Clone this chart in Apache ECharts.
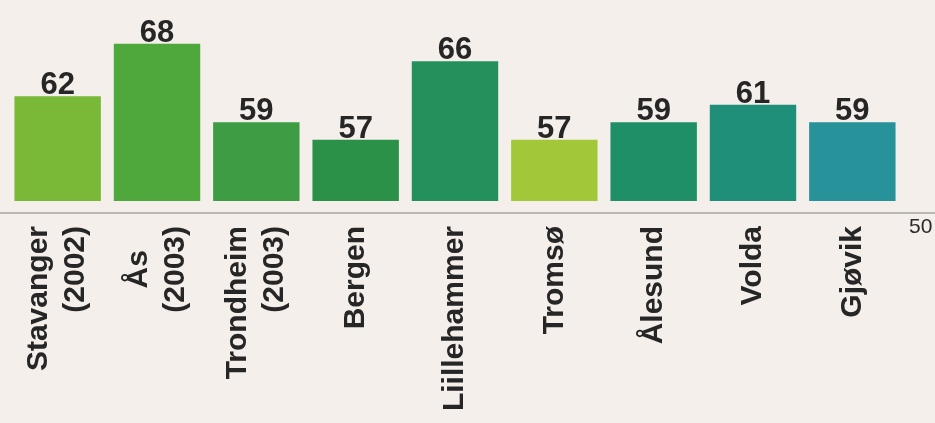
<!DOCTYPE html>
<html>
<head>
<meta charset="utf-8">
<script src="https://cdn.jsdelivr.net/npm/echarts@6/dist/echarts.min.js"></script>
<style>
html,body{margin:0;padding:0;background:#f4efea;}
#c{width:935px;height:423px;}
</style>
</head>
<body>
<div id="c"></div>
<script>
const categories = ['Stavanger\n(2002)', '{c|Ås}\n(2003)', 'Trondheim\n(2003)', 'Bergen', 'Liillehammer', 'Tromsø', 'Ålesund', 'Volda', 'Gjøvik'];
const values = [62, 68, 59, 57, 66, 57, 59, 61, 59];
const barColors = ['#7ab838', '#4fa83c', '#3e9c44', '#2b9048', '#24905c', '#a2c83a', '#1f8f68', '#1f8f7a', '#27929a'];
const baseValue = 50;

const chart = echarts.init(document.getElementById('c'), null, {renderer: 'canvas'});
chart.setOption({
  backgroundColor: '#f4efea',
  animation: false,
  textStyle: {fontFamily: 'Liberation Sans, Arial, sans-serif'},
  grid: [
    {left: 8, right: 33, top: 0, bottom: 222, outerBoundsMode: 'none', containLabel: false},
    {left: 0, right: 0, top: 212, height: 1, outerBoundsMode: 'none', containLabel: false}
  ],
  xAxis: [
    {
      type: 'category', data: categories, gridIndex: 0,
      offset: 11,
      axisLine: {show: false},
      axisTick: {show: false},
      axisLabel: {
        rotate: 90, interval: 0, margin: 14,
        fontSize: 30, fontWeight: 'bold', color: '#262626', lineHeight: 37,
        fontFamily: 'Liberation Sans, Arial, sans-serif',
        rich: {c: {align: 'center', fontSize: 30, fontWeight: 'bold', color: '#262626', lineHeight: 37}}
      }
    },
    {
      type: 'value', gridIndex: 1, min: 0, max: 1,
      axisLine: {show: true, lineStyle: {color: '#a8a4a0', width: 1.5}},
      axisTick: {show: false}, axisLabel: {show: false}, splitLine: {show: false}
    }
  ],
  yAxis: [
    {
      type: 'value', gridIndex: 0, min: baseValue, max: 73, interval: 5,
      position: 'right',
      axisLine: {show: false}, axisTick: {show: false}, splitLine: {show: false},
      axisLabel: {
        showMaxLabel: false,
        formatter: v => v === baseValue ? String(v) : '',
        verticalAlign: 'top', padding: [16, 0, 0, 0], margin: 7,
        align: 'left',
        fontSize: 21, color: '#2a2a2a'
      }
    },
    {type: 'value', gridIndex: 1, show: false}
  ],
  series: [{
    type: 'bar',
    xAxisIndex: 0, yAxisIndex: 0,
    data: values.map((v, i) => ({value: v, itemStyle: {color: barColors[i]}})),
    barCategoryGap: '13%',
    label: {
      show: true, position: 'top', distance: -5,
      fontSize: 31, fontWeight: 'bold', color: '#262626'
    }
  }]
});
</script>
</body>
</html>
